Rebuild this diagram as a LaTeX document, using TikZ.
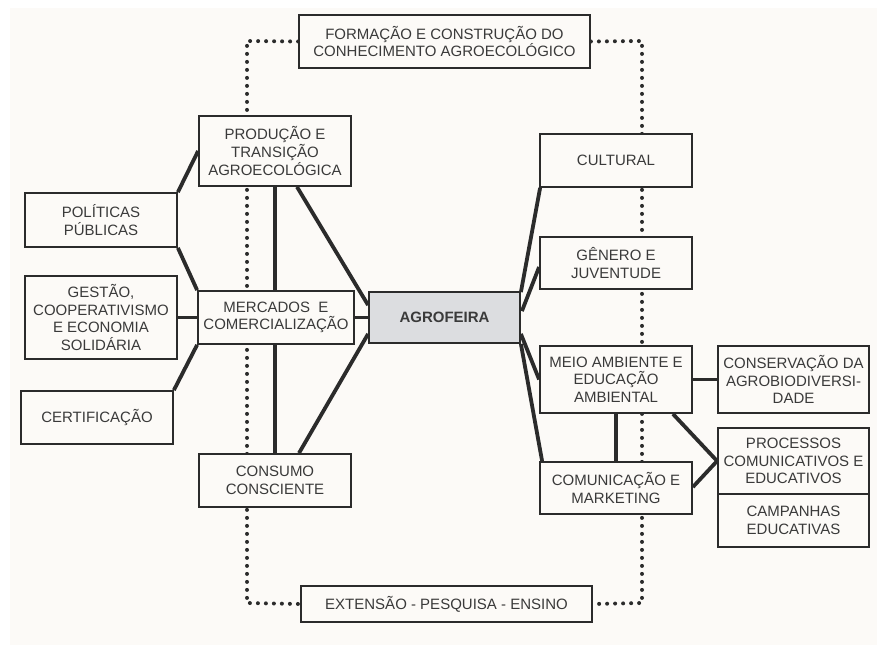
\documentclass[tikz,border=0pt]{standalone}
\usepackage{fontspec}
\setsansfont{Liberation Sans}
\usepackage{tikz}
\usetikzlibrary{positioning, calc, backgrounds}

\definecolor{paper}{HTML}{FCFAF7}
\definecolor{ink}{HTML}{2B2B2B}
\definecolor{txt}{HTML}{3A3A3A}
\definecolor{hubgray}{HTML}{DCDDE0}

\begin{document}
\begin{tikzpicture}[
        x=1pt, y=-1pt,
        topic/.style={rectangle, draw=ink, line width=1.8pt, fill=paper, inner sep=0pt, align=center, text=txt, font=\sffamily\fontsize{15}{17.7}\selectfont},
        hub/.style={topic, fill=hubgray, font=\sffamily\bfseries\fontsize{15}{17.7}\selectfont},
        link/.style={draw=ink, line width=3.8pt},
        dots/.style={draw=ink, line width=4pt, line cap=round, dash pattern=on 0pt off 8pt}
    ]
        \useasboundingbox (0,0) rectangle (880,647);

        % Nodes
        \node[hub, minimum width=151, minimum height=51] (agro) at (444.5,317.5) {AGROFEIRA};
        \node[topic, minimum width=291, minimum height=53] (form) at (444.5,41.5) {FORMAÇÃO E CONSTRUÇÃO DO\\CONHECIMENTO AGROECOLÓGICO};
        \node[topic, minimum width=291, minimum height=36] (ext) at (446.5,604) {EXTENSÃO - PESQUISA - ENSINO};

        \node[topic, minimum width=152, minimum height=70] (prod) at (275,151) {PRODUÇÃO E\\TRANSIÇÃO\\AGROECOLÓGICA};
        \node[topic, minimum width=156, minimum height=53] (merc) at (276,317.5) {MERCADOS \ E\\COMERCIALIZAÇÃO};
        \node[topic, minimum width=152, minimum height=53] (cons) at (275,480.5) {CONSUMO\\CONSCIENTE};
        \node[topic, minimum width=152, minimum height=54] (pol) at (101,220) {POLÍTICAS\\PÚBLICAS};
        \node[topic, minimum width=152, minimum height=83] (gest) at (101,317.5) {GESTÃO,\\COOPERATIVISMO\\E ECONOMIA\\SOLIDÁRIA};
        \node[topic, minimum width=152, minimum height=53] (cert) at (97,417.5) {CERTIFICAÇÃO};

        \node[topic, minimum width=152, minimum height=53] (cult) at (616,160.5) {CULTURAL};
        \node[topic, minimum width=152, minimum height=52] (gen) at (616,263) {GÊNERO E\\JUVENTUDE};
        \node[topic, minimum width=152, minimum height=67] (meio) at (616,379.5) {MEIO AMBIENTE E\\EDUCAÇÃO\\AMBIENTAL};
        \node[topic, minimum width=152, minimum height=52] (comu) at (616,488) {COMUNICAÇÃO E\\MARKETING};
        \node[topic, minimum width=151, minimum height=67] (cagro) at (793.5,379.5) {CONSERVAÇÃO DA\\AGROBIODIVERSI-\\DADE};
        \node[topic, minimum width=151, minimum height=66] (proc) at (793.5,461) {PROCESSOS\\COMUNICATIVOS E\\EDUCATIVOS};
        \node[topic, minimum width=151, minimum height=53] (camp) at (793.5,520.5) {CAMPANHAS\\EDUCATIVAS};

        % Dotted frame (behind the boxes)
        \coordinate (tl) at (247,41);
        \coordinate (bl) at (247,603);
        \coordinate (tr) at (642,41);
        \coordinate (br) at (642,603);
        \begin{scope}[on background layer]
            \fill[paper] (10,8) rectangle (877,645);
            \draw[dots] (form.west) -- (tl) -- (bl) -- (ext.west);
            \draw[dots] (form.east) -- (tr) -- (br) -- (ext.east);
        \end{scope}

        % Left side
        \draw[link] (prod.west) -- (pol.north east);
        \draw[link] (pol.south east) -- (merc.north west);
        \draw[link] (gest.east) -- (merc.west);
        \draw[link] (cert.north east) -- (merc.south west);
        \draw[link] (prod.south) -- (prod.south |- merc.north);
        \draw[link] (cons.north |- merc.south) -- (cons.north);
        \draw[link] ($(prod.south)+(22,0)$) -- ($(agro.north west)+(0,14)$);
        \draw[link] (merc.east) -- (agro.west);
        \draw[link] ($(agro.south west)+(0,-10)$) -- ($(cons.north)+(24,0)$);

        % Right side
        \draw[link] ($(agro.north east)+(0,1)$) -- ($(cult.south west)+(1,0)$);
        \draw[link] ($(agro.north east)+(1,20)$) -- ($(gen.west)+(0,4)$);
        \draw[link] ($(agro.south east)+(0,-10)$) -- (meio.west);
        \draw[link] (agro.south east) -- ($(comu.north west)+(3,0)$);
        \draw[link] (meio.east) -- (cagro.west);
        \draw[link] ($(meio.south east)+(-20,0)$) -- (proc.west);
        \draw[link] ($(comu.east)+(0,-1)$) -- (proc.west);
        \draw[link] (meio.south) -- (comu.north);
    \end{tikzpicture}
\end{document}
